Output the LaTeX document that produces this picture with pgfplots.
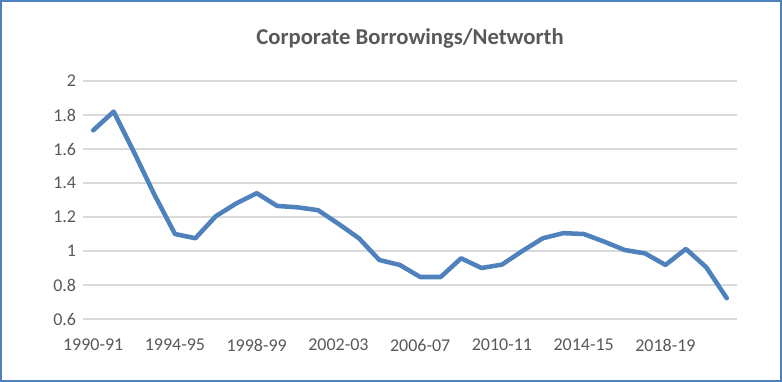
\documentclass[border=0pt]{standalone}
\usepackage{pgfplots}
\pgfplotsset{compat=1.18}
\usepackage{fontspec}
\setmainfont{Carlito}
\definecolor{lineblue}{RGB}{79,129,189}
\definecolor{bordblue}{RGB}{79,129,189}
\definecolor{txtgray}{RGB}{89,89,89}
\definecolor{gridgray}{RGB}{217,217,217}
\begin{document}
\begin{tikzpicture}
\begin{axis}[
  at={(0,0)}, anchor=south west,
  scale only axis,
  width=490.5pt, height=178.5pt,
  xmin=-0.5, xmax=31.5,
  ymin=0.6, ymax=2,
  axis line style={draw=none},
  tick style={draw=none},
  ytick={0.6,0.8,1,1.2,1.4,1.6,1.8,2},
  yticklabels={0.6,0.8,1,1.2,1.4,1.6,1.8,2},
  xtick={0,4,8,12,16,20,24,28},
  xticklabels={1990-91,1994-95,1998-99,2002-03,2006-07,2010-11,2014-15,2018-19},
  ymajorgrids,
  major grid style={draw=gridgray, line width=1.5pt},
  /pgf/number format/assume math mode=true,
  ticklabel style={font=\fontsize{13.5pt}{16pt}\selectfont, text=txtgray, inner sep=0pt},
  xticklabel style={anchor=center, yshift=-19.5pt},
  yticklabel style={anchor=east, xshift=-5pt},
  clip=false,
]
\addplot[color=lineblue, line width=3.4pt, line join=round, line cap=round] coordinates {
(0,1.71) (1,1.82) (2,1.58) (3,1.33) (4,1.10) (5,1.075) (6,1.205) (7,1.28)
(8,1.34) (9,1.265) (10,1.257) (11,1.24) (12,1.16) (13,1.075) (14,0.947) (15,0.918)
(16,0.847) (17,0.847) (18,0.957) (19,0.90) (20,0.92) (21,1.0) (22,1.075) (23,1.105)
(24,1.10) (25,1.055) (26,1.006) (27,0.986) (28,0.918) (29,1.012) (30,0.904) (31,0.722)
};
\node[font=\fontsize{17pt}{20pt}\selectfont\bfseries, text=txtgray, anchor=center]
  at ([yshift=32pt]rel axis cs:0.5,1) {Corporate Borrowings/Networth};
\end{axis}
\draw[draw=bordblue, line width=1.5pt] (-61.5pt,-46.5pt) rectangle (523.5pt,238.5pt);
\end{tikzpicture}
\end{document}
